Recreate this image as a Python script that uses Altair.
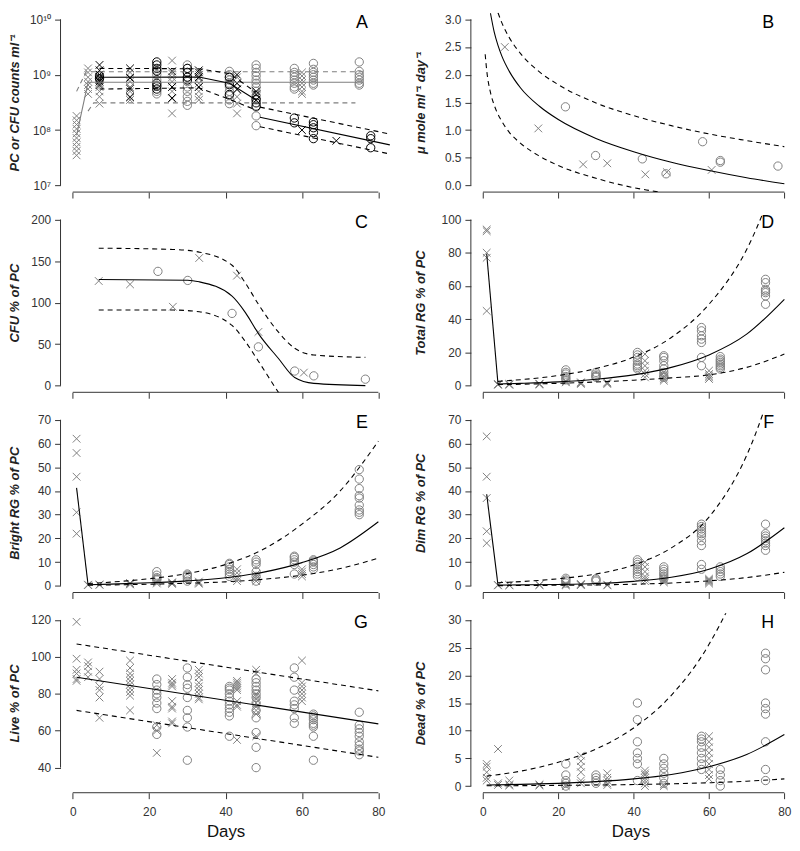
import altair as alt
import pandas as pd

GRAY = "#7f7f7f"
BLACK = "#000000"
AX = "#333333"
FONT = "Liberation Sans"
XSHAPE = "M-1,-1L1,1M-1,1L1,-1"

# ---------------- Panel A (PC / CFU counts, log scale) ----------------
A_gray_cross = {
    1: [3.5e7, 4.2e7, 5e7, 6e7, 7.2e7, 8.7e7, 1.05e8, 1.26e8, 1.5e8, 1.8e8],
    4: [1.3e9, 1.1e9, 9e8, 7.5e8, 6.5e8, 5.5e8, 4.5e8],
    7: [1e9, 8.5e8, 7e8, 6e8, 5e8, 4e8, 3e8],
    15: [1.1e9, 9e8, 7.5e8, 6e8, 5e8, 4e8, 3.5e8],
    26: [1.8e9, 1.05e9, 9e8, 7.5e8, 6e8, 5e8, 3.7e8, 2e8],
    33: [1e9, 8.5e8, 7e8, 6e8, 5e8, 4e8, 3.5e8],
    43: [9e8, 7e8, 5.5e8, 4e8, 3e8, 2e8],
    60: [1.1e9, 9.5e8, 8e8, 7e8, 6e8, 5e8, 4.5e8],
}
A_gray_circ = {
    22: [1.2e9, 1e9, 8e8, 6.5e8, 5e8, 4.5e8],
    30: [1.5e9, 1.3e9, 1.1e9, 9e8, 7.5e8, 6e8, 5e8, 4e8, 3.3e8, 2.8e8],
    41: [1.15e9, 1e9, 9e8, 8e8, 7e8, 6e8, 5e8, 4.2e8, 3.5e8, 3e8],
    48: [1.5e9, 1.3e9, 1.1e9, 9.5e8, 8e8, 7e8, 6e8, 5e8, 4.2e8, 3.5e8, 2.6e8, 1.8e8, 1.2e8],
    58: [1.3e9, 1.1e9, 1e9, 9e8, 8e8, 7e8, 6e8, 5.5e8],
    63: [1.6e9, 1.25e9, 1.1e9, 1e9, 9e8, 8e8, 7e8, 6.5e8],
    75: [1.7e9, 1.15e9, 1e9, 9e8, 8e8, 7e8, 6.5e8],
}
A_black_cross = {
    7: [1.5e9, 1.2e9, 1e9, 9e8, 8e8, 7.5e8, 6.5e8],
    15: [1.3e9, 8.7e8, 5.6e8, 3.9e8],
    26: [1.15e9, 6e8, 3.8e8],
    33: [1.2e9, 1.1e9, 9e8, 6e8],
    43: [1e9, 7e8, 5.4e8],
    48: [5e8, 4.4e8, 3.5e8],
    60: [1e8],
    69: [6.4e7],
}
A_black_circ = {
    7: [9.5e8, 8.5e8],
    22: [1.7e9, 1.5e9, 1.3e9, 1.15e9, 7e8, 6.2e8, 5.5e8],
    30: [1.3e9, 1.1e9, 9e8, 8e8],
    41: [9e8, 6.6e8, 4.4e8],
    48: [3.6e8, 3.1e8, 2.7e8],
    58: [1.65e8, 1.35e8],
    63: [1.4e8, 1.25e8, 1.1e8, 9e7, 7e7],
    78: [7.9e7, 7e7, 4.8e7],
}
A_gfit_day, A_gfit = [1, 4, 76], [8e7, 7.3e8, 7.3e8]
A_gup_day, A_gup = [1, 3.5, 76], [5e8, 1.13e9, 1.13e9]
A_glo_day, A_glo = [4, 5.5, 74], [2.2e8, 3.1e8, 3.1e8]
A_bfit1_day, A_bfit1 = [7, 33, 41, 48], [9e8, 9.1e8, 7e8, 3.5e8]
A_bup1_day, A_bup1 = [7, 33, 41, 48], [1.3e9, 1.28e9, 1.05e9, 4.8e8]
A_blo1_day, A_blo1 = [7, 33, 41, 48], [5.5e8, 5.8e8, 3.6e8, 2.3e8]
A_bfit2_day, A_bfit2 = [49, 83], [1.7e8, 5.4e7]
A_bup2_day, A_bup2 = [49, 83], [2.6e8, 8.5e7]
A_blo2_day, A_blo2 = [49, 83], [1.15e8, 3.7e7]

# ---------------- Panel B (umole ml-1 day-1) ----------------
B_cross_day = [5.8, 14.7, 26.6, 33, 43.1, 48.8, 60.7]
B_cross = [2.5, 1.03, 0.38, 0.40, 0.20, 0.24, 0.28]
B_circ_day = [21.9, 29.9, 42.3, 48.6, 58.3, 63, 63, 78.3]
B_circ = [1.42, 0.54, 0.48, 0.21, 0.79, 0.45, 0.42, 0.35]
B_fit_day = [2, 3, 4, 5, 7, 10, 15, 20, 30, 40, 50, 60, 70, 80]
B_fit = [3.11, 2.77, 2.53, 2.34, 2.06, 1.76, 1.43, 1.19, 0.85, 0.61, 0.42, 0.27, 0.14, 0.03]
B_up_day = [4, 5, 7, 10, 15, 20, 30, 40, 50, 60, 70, 80]
B_up = [3.12, 2.94, 2.67, 2.38, 2.05, 1.82, 1.49, 1.26, 1.08, 0.93, 0.81, 0.70]
B_lo_day = [0.6, 1, 2, 3, 5, 7, 10, 15, 20, 30, 40, 45, 50]
B_lo = [2.37, 2.08, 1.68, 1.45, 1.16, 0.96, 0.76, 0.53, 0.36, 0.13, -0.04, -0.10, -0.16]

# ---------------- Panel C (CFU % of PC) ----------------
C_cross_day = [6.8, 15, 26.2, 33.1, 43, 48.6, 60.5]
C_cross = [126, 122, 95, 153.7, 132.5, 64.7, 15.7]
C_circ_day = [22.3, 30.1, 41.7, 48.6, 58.1, 63.1, 76.6]
C_circ = [137.6, 126.7, 87, 46.7, 17.6, 11.8, 7.8]
C_fit_day = [6.8, 30.1, 33.1, 41.7, 45.2, 48.6, 53.8, 58.1, 63.1, 76.6]
C_fit = [127.8, 127, 125, 107.8, 88, 62.7, 33, 9.8, 2.7, 0]
C_up_day = [6.8, 26.2, 33.1, 41.7, 45.2, 48.6, 53.8, 58.1, 63.1, 76.6]
C_up = [165.5, 164, 160.8, 145, 123.5, 98, 64.7, 45, 37, 34]
C_lo_day = [6.8, 26.2, 33.1, 41.7, 45.2, 48.6, 53.8, 56.4]
C_lo = [91, 91, 89, 72.5, 53, 29.4, -7.8, -25]

# ---------------- Panel D (Total RG % of PC) ----------------
D_cross = {1: [94, 93, 80, 77, 45], 4: [1.0, 0.8, 0.5], 7: [1.0, 0.7, 0.5],
           15: [1.2, 0.9, 0.6], 22: [3, 2.5, 2], 26: [2, 1.5, 1], 33: [2, 1.5, 1],
           43: [19, 15, 12, 9, 7, 5], 48: [8, 6, 5, 4, 3], 60: [9, 7, 6, 5, 4]}
D_circ = {22: [9.5, 8, 7, 5.5, 4.5, 3.5], 30: [8, 7, 6, 5.5, 5],
          41: [20, 18.5, 17, 15, 13, 12, 11, 10], 48: [18, 17, 15, 12, 10, 8, 6, 5],
          58: [35, 33, 30, 28, 26, 17, 12], 63: [17.5, 16, 15, 14, 13, 12, 11, 10],
          75: [64, 62, 58, 57, 56, 54, 49]}
D_drop_day, D_drop = [1, 4], [79.4, 1.0]
D_band_day = [4, 10, 20, 30, 40, 50, 60, 70, 80]
D_fit = [1.0, 1.4, 2.3, 3.9, 6.5, 11, 18.5, 31, 52]
D_up = [2.6, 3.6, 6.1, 10.3, 17.2, 29, 49, 82, 138]
D_lo = [0.6, 0.85, 1.4, 2.2, 3.3, 4.7, 6.5, 11, 19]

# ---------------- Panel E (Bright RG % of PC) ----------------
E_cross = {1: [62, 56, 46, 31, 22], 4: [0.5, 0.3], 7: [0.6, 0.4], 15: [1.2, 1.0, 0.8, 0.6],
           22: [2, 1.5, 1], 26: [1.5, 1.2, 0.8], 33: [1.8, 1.3, 0.9],
           43: [7, 5.5, 4, 3, 2], 48: [5, 4, 3, 2], 60: [7, 6, 5, 4]}
E_circ = {22: [6, 4.5, 3.5, 3, 2.5], 30: [5, 4.5, 4, 3, 2], 41: [9.5, 9, 8, 7, 6, 5, 4],
          48: [11, 10, 9, 6, 4, 2], 58: [12.5, 12, 11, 10, 9, 5], 63: [11, 10.5, 10, 9, 8, 7],
          75: [49, 45, 41, 38, 37, 34, 32, 31, 30]}
E_drop_day, E_drop = [1, 4], [41.3, 0.5]
E_band_day = [4, 10, 20, 30, 40, 50, 60, 70, 80]
E_fit = [0.5, 0.75, 1.3, 2.1, 3.4, 5.8, 9.8, 16, 27]
E_up = [1.0, 1.6, 3.0, 5.2, 9.0, 15.5, 26, 40, 61]
E_lo = [0.3, 0.4, 0.7, 1.1, 1.7, 2.8, 4.5, 7.3, 11.7]

# ---------------- Panel F (Dim RG % of PC) ----------------
F_cross = {1: [63, 46, 37, 23, 18], 4: [0.4, 0.2], 7: [0.4, 0.2], 15: [0.5, 0.3],
           22: [0.8, 0.5, 0.2], 26: [0.8, 0.5, 0.3], 33: [0.5, 0.2],
           43: [10, 8, 6, 4, 3, 2], 48: [3.5, 3, 2.5, 2, 1.5], 60: [3, 2.5, 2, 1.5, 1]}
F_circ = {22: [3.2, 2.5, 2, 1.2], 30: [3, 2.5, 2], 41: [11, 10, 9, 8, 7, 6, 5, 4],
          48: [8, 7, 6, 5, 4, 3], 58: [26, 25, 24, 23, 22, 21, 19, 17, 9, 7],
          63: [8, 7, 6, 5, 4], 75: [26, 22, 21, 20, 19, 18, 17, 15]}
F_drop_day, F_drop = [1, 4], [38.6, 0.3]
F_band_day = [4, 10, 20, 30, 40, 50, 60, 70, 80]
F_fit = [0.3, 0.4, 0.6, 1.0, 1.9, 3.6, 7, 13.5, 24.5]
F_up = [1.3, 1.8, 3.0, 5.0, 8.8, 16, 29, 55, 100]
F_lo = [0.1, 0.15, 0.25, 0.4, 0.7, 1.2, 2.1, 3.5, 5.7]

# ---------------- Panel G (Live % of PC) ----------------
G_cross = {1: [119, 99, 93, 91, 88, 87], 4: [97, 95, 92, 89], 7: [92, 88, 84, 82, 78, 67],
           15: [98, 94, 91, 89, 87, 85, 83, 81, 79, 71], 22: [63, 60, 48],
           26: [88, 86, 85, 84, 76, 73, 72, 65, 64], 33: [93, 91, 89, 86, 84, 82, 80, 78, 77],
           43: [87, 86, 85, 84, 83, 82, 76, 74, 73, 55],
           48: [93, 91, 80, 79, 77, 75, 73, 71, 69, 57], 60: [98, 86, 84, 82, 80, 78, 76]}
G_circ = {22: [88, 85, 82, 80, 78, 75, 72, 62, 58], 30: [94, 89, 85, 83, 78, 71, 67, 62, 44],
          41: [84, 83, 82, 80, 78, 76, 74, 72, 70, 68, 57],
          48: [88, 86, 84, 82, 80, 78, 75, 71, 67, 59, 51, 40],
          58: [94, 89, 82, 76, 74, 72, 67, 64], 63: [69, 68, 67, 66, 64, 63, 62, 57, 44],
          75: [70, 63, 61, 59, 57, 54, 52, 50, 49, 47]}
G_line_day = [1, 80]
G_fit = [89, 63.7]
G_up = [107, 81.6]
G_lo = [71, 45.6]

# ---------------- Panel H (Dead % of PC) ----------------
H_cross = {1: [4, 3.5, 2.5, 1.5, 1], 4: [6.7, 0.5, 0.2], 7: [1, 0.3, 0.1], 15: [0.3, 0.1],
           22: [0.3, 0], 26: [5.5, 4.5, 3.5, 2.5, 1, 0.5], 33: [2.3, 1.5, 1, 0.5, 0.2],
           43: [2.8, 2.3, 2, 1.5, 1, 0.5, 0], 48: [0.3, 0], 60: [9, 8, 7, 6, 5, 4, 3, 2, 1.3]}
H_circ = {22: [4, 2, 1, 0.5, 0], 30: [2, 1.5, 1, 0.5], 41: [15, 12, 8, 6, 5, 4, 1],
          48: [5, 4, 3.2, 2.3, 1.5, 0.5], 58: [9, 8.5, 8, 7, 6, 5, 4, 3], 63: [3, 2, 1, 0],
          75: [24, 23, 21, 15, 14, 13, 8, 3, 1]}
H_day = [1, 10, 20, 30, 40, 50, 60, 70, 80]
H_fit = [0.19, 0.3, 0.49, 0.8, 1.3, 2.1, 3.5, 5.7, 9.3]
H_up = [1.8, 2.7, 4.3, 6.7, 10.5, 16.4, 25.6, 40, 62]
H_lo = [0.06, 0.08, 0.13, 0.19, 0.28, 0.41, 0.6, 0.88, 1.3]

X_TICKS = [0, 20, 40, 60, 80]


def expand(d):
    rows = [(day, v) for day, vals in d.items() for v in vals]
    return pd.DataFrame(rows, columns=["day", "val"])


def xy(days, vals):
    return pd.DataFrame({"day": days, "val": vals})


def panel(letter, ytitle, xdom, ydom, yticks, width, height, ext, tpad, bottom,
          gray_circ=None, gray_cross=None, black_circ=None, black_cross=None,
          lines=(), ylog=False, label_expr=None, yfmt=None, letter_dx=23):
    xaxis = alt.Axis(values=X_TICKS, domain=False, grid=False, ticks=True, tickSize=6,
                     tickColor=AX, tickWidth=1,
                     labels=bottom, labelFont=FONT, labelFontSize=12, labelColor=AX,
                     labelPadding=8, title="Days" if bottom else None, titleFont=FONT,
                     titleFontSize=17, titleFontWeight="normal", titleColor="#111",
                     titlePadding=6)
    ykw = dict(values=yticks, domain=False, grid=False, ticks=True, tickSize=6, tickColor=AX,
               tickWidth=1,
               labelFont=FONT, labelFontSize=12, labelColor=AX, labelPadding=4,
               minExtent=ext, maxExtent=ext, title=ytitle, titleFont=FONT,
               titleFontSize=13, titleFontWeight="bold", titleFontStyle="italic",
               titleColor="#222", titlePadding=tpad)
    if label_expr:
        ykw["labelExpr"] = label_expr
    if yfmt:
        ykw["format"] = yfmt
    yaxis = alt.Axis(**ykw)
    if ylog:
        yscale = alt.Scale(type="log", domain=ydom, nice=False)
    else:
        yscale = alt.Scale(domain=ydom, nice=False, zero=False)
    X = alt.X("day:Q", scale=alt.Scale(domain=xdom, nice=False, zero=False), axis=xaxis)
    Y = alt.Y("val:Q", scale=yscale, axis=yaxis)

    layers = [
        alt.Chart(xy([0, 80], [ydom[0], ydom[0]])).mark_line(color=AX, strokeWidth=1).encode(x=X, y=Y),
        alt.Chart(xy([xdom[0], xdom[0]], [yticks[0], yticks[-1]])).mark_line(color=AX, strokeWidth=1).encode(x=X, y=Y),
    ]
    for df, col, shp in [(gray_circ, GRAY, "circle"), (gray_cross, GRAY, XSHAPE),
                         (black_circ, BLACK, "circle"), (black_cross, BLACK, XSHAPE)]:
        if df is None:
            continue
        size = 70 if shp == "circle" else 60
        layers.append(alt.Chart(df).mark_point(shape=shp, filled=False, size=size,
                                               strokeWidth=1, color=col, opacity=1).encode(x=X, y=Y))
    for df, col, dashed, smooth in lines:
        kw = dict(color=col, strokeWidth=1.1, clip=True)
        if dashed:
            kw["strokeDash"] = [5, 4]
        if smooth:
            kw["interpolate"] = "monotone"
        layers.append(alt.Chart(df).mark_line(**kw).encode(x=X, y=Y))
    layers.append(alt.Chart(pd.DataFrame({"t": [letter]})).mark_text(
        align="right", baseline="alphabetic", font=FONT, fontSize=18, color="black"
    ).encode(text="t:N", x=alt.value(width - letter_dx), y=alt.value(15)))
    return alt.layer(*layers).properties(width=width, height=height)


H_ = 181
WL, WR = 333, 322
XL = [-3.2, 83.2]
XR = [-3.2, 81.5]
EL, PL = 34, 5
ER, PR = 38, 6

a_expr = ("datum.value < 5e7 ? '10\u2077' : datum.value < 5e8 ? '10\u2078' : "
          "datum.value < 5e9 ? '10\u2079' : '10\u00b9\u2070'")

pA = panel("A", "PC or CFU counts ml\u207b\u00b9", XL, [7.586e6, 1.318e10],
           [1e7, 1e8, 1e9, 1e10], WL, H_, EL, PL, False,
           gray_circ=expand(A_gray_circ), gray_cross=expand(A_gray_cross),
           black_circ=expand(A_black_circ), black_cross=expand(A_black_cross),
           lines=[(xy(A_gfit_day, A_gfit), GRAY, False, False), (xy(A_gup_day, A_gup), GRAY, True, False),
                  (xy(A_glo_day, A_glo), GRAY, True, False),
                  (xy(A_bfit1_day, A_bfit1), BLACK, False, False), (xy(A_bup1_day, A_bup1), BLACK, True, False),
                  (xy(A_blo1_day, A_blo1), BLACK, True, False),
                  (xy(A_bfit2_day, A_bfit2), BLACK, False, False), (xy(A_bup2_day, A_bup2), BLACK, True, False),
                  (xy(A_blo2_day, A_blo2), BLACK, True, False)],
           ylog=True, label_expr=a_expr)

pB = panel("B", "\u03bc mole ml\u207b\u00b9 day\u207b\u00b9", XR, [-0.12, 3.12],
           [0, 0.5, 1.0, 1.5, 2.0, 2.5, 3.0], WR, H_, ER, PR, False,
           gray_circ=xy(B_circ_day, B_circ), gray_cross=xy(B_cross_day, B_cross),
           lines=[(xy(B_fit_day, B_fit), BLACK, False, True), (xy(B_up_day, B_up), BLACK, True, True),
                  (xy(B_lo_day, B_lo), BLACK, True, True)],
           yfmt=".1f", letter_dx=16)

pC = panel("C", "CFU % of PC", XL, [-8, 208], [0, 50, 100, 150, 200], WL, H_, EL, PL, False,
           gray_circ=xy(C_circ_day, C_circ), gray_cross=xy(C_cross_day, C_cross),
           lines=[(xy(C_fit_day, C_fit), BLACK, False, True), (xy(C_up_day, C_up), BLACK, True, True),
                  (xy(C_lo_day, C_lo), BLACK, True, True)])

pD = panel("D", "Total RG % of PC", XR, [-4, 104], [0, 20, 40, 60, 80, 100], WR, H_, ER, PR, False,
           gray_circ=expand(D_circ), gray_cross=expand(D_cross),
           lines=[(xy(D_drop_day, D_drop), BLACK, False, False),
                  (xy(D_band_day, D_fit), BLACK, False, True), (xy(D_band_day, D_up), BLACK, True, True),
                  (xy(D_band_day, D_lo), BLACK, True, True)], letter_dx=16)

pE = panel("E", "Bright RG % of PC", XL, [-2.8, 72.8], [0, 10, 20, 30, 40, 50, 60, 70], WL, H_, EL, PL, False,
           gray_circ=expand(E_circ), gray_cross=expand(E_cross),
           lines=[(xy(E_drop_day, E_drop), BLACK, False, False),
                  (xy(E_band_day, E_fit), BLACK, False, True), (xy(E_band_day, E_up), BLACK, True, True),
                  (xy(E_band_day, E_lo), BLACK, True, True)])

pF = panel("F", "Dim RG % of PC", XR, [-2.8, 72.8], [0, 10, 20, 30, 40, 50, 60, 70], WR, H_, ER, PR, False,
           gray_circ=expand(F_circ), gray_cross=expand(F_cross),
           lines=[(xy(F_drop_day, F_drop), BLACK, False, False),
                  (xy(F_band_day, F_fit), BLACK, False, True), (xy(F_band_day, F_up), BLACK, True, True),
                  (xy(F_band_day, F_lo), BLACK, True, True)], letter_dx=16)

pG = panel("G", "Live % of PC", XL, [26.4, 123.6], [40, 60, 80, 100, 120], WL, H_, EL, PL, True,
           gray_circ=expand(G_circ), gray_cross=expand(G_cross),
           lines=[(xy(G_line_day, G_fit), BLACK, False, False), (xy(G_line_day, G_up), BLACK, True, False),
                  (xy(G_line_day, G_lo), BLACK, True, False)])

pH = panel("H", "Dead % of PC", XR, [-1.2, 31.2], [0, 5, 10, 15, 20, 25, 30], WR, H_, ER, PR, True,
           gray_circ=expand(H_circ), gray_cross=expand(H_cross),
           lines=[(xy(H_day, H_fit), BLACK, False, True), (xy(H_day, H_up), BLACK, True, True),
                  (xy(H_day, H_lo), BLACK, True, True)], letter_dx=16)

chart = alt.concat(pA, pB, pC, pD, pE, pF, pG, pH, columns=2,
                   spacing={"row": 13, "column": 22}, align="each",
                   padding=0, background="white").configure_view(stroke="transparent")

chart.save("out.html", embed_options={"renderer": "svg", "actions": False})
